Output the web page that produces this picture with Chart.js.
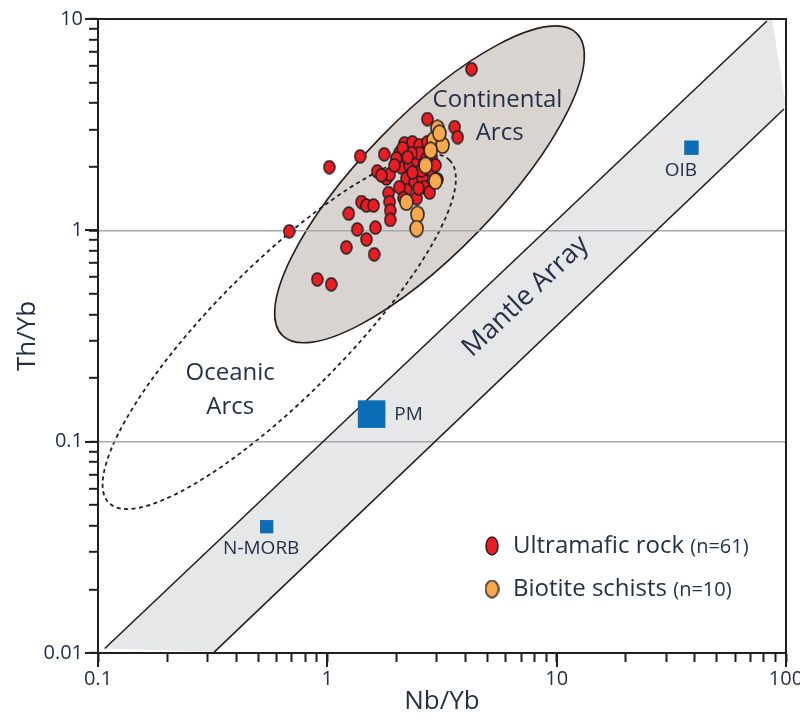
<!DOCTYPE html>
<html>
<head>
<meta charset="utf-8">
<title>Th/Yb vs Nb/Yb</title>
<script src="https://cdn.jsdelivr.net/npm/chart.js@4.4.1/dist/chart.umd.min.js"></script>
<style>
  html, body { margin: 0; padding: 0; background: #fff; }
  #wrap { width: 800px; height: 720px; }
</style>
</head>
<body>
<div id="wrap"><canvas id="thNbChart" width="800" height="720"></canvas></div>
<script>
// Th/Yb vs Nb/Yb samples
const ultramaficX = [4.25, 2.73, 3.59, 3.70, 1.02, 1.39, 1.77, 1.65, 1.81, 1.87,
  1.24, 1.41, 1.48, 1.59, 1.85, 1.87, 1.88, 1.88, 1.35, 1.62,
  1.48, 1.21, 1.60, 0.904, 1.04, 0.682, 2.06, 2.17, 2.35, 2.52,
  2.71, 2.85, 2.10, 2.28, 2.45, 2.65, 2.85, 2.21, 2.40, 2.60,
  2.65, 2.45, 2.21, 2.06, 3.02, 2.00, 2.52, 2.33, 2.71, 2.57,
  2.35, 2.85, 2.13, 2.73, 1.72, 1.96, 2.24, 2.50, 2.79, 2.15, 2.96];
const ultramaficY = [5.79, 3.36, 3.08, 2.76, 1.99, 2.24, 2.29, 1.90, 1.76, 1.84,
  1.20, 1.36, 1.31, 1.31, 1.50, 1.36, 1.24, 1.12, 1.01, 1.03,
  0.906, 0.831, 0.770, 0.586, 0.555, 0.989, 2.32, 2.58, 2.61, 2.53,
  2.34, 2.22, 1.99, 2.03, 2.15, 2.08, 1.92, 1.76, 1.69, 1.76,
  1.60, 1.42, 1.55, 1.60, 1.74, 2.19, 2.32, 2.32, 2.19, 1.92,
  1.88, 2.45, 2.45, 2.61, 1.82, 2.03, 2.22, 1.58, 1.51, 1.42, 2.03];
const schistX = [3.02, 2.90, 3.18, 2.82, 2.96, 2.21, 2.47, 2.45, 2.68, 3.08];
const schistY = [3.04, 2.67, 2.53, 2.39, 1.71, 1.36, 1.19, 1.02, 2.03, 2.88];

// reference compositions
const refNames = ['N-MORB', 'PM', 'OIB'];
const refX = [0.544, 1.56, 38.7];
const refY = [0.0396, 0.135, 2.46];

// axis ticks
const xTicks = [0.1, 0.2, 0.3, 0.4, 0.5, 0.6, 0.7, 0.8, 0.9,
  1, 2, 3, 4, 5, 6, 7, 8, 9, 10, 20, 30, 40, 50, 60, 70, 80, 90, 100];
const yTicks = [0.01, 0.02, 0.03, 0.04, 0.05, 0.06, 0.07, 0.08, 0.09,
  0.1, 0.2, 0.3, 0.4, 0.5, 0.6, 0.7, 0.8, 0.9,
  1, 2, 3, 4, 5, 6, 7, 8, 9, 10];
const xLabelValues = [0.1, 1, 10, 100];
const xTickLabels = ['0.1', '1', '10', '100'];
const yLabelValues = [0.01, 0.1, 1, 10];
const yTickLabels = ['0.01', '0.1', '1', '10'];
const gridValues = [0.1, 1];

// mantle array band (two parallel bounding lines)
const mantleUpper = [{x: 0.107, y: 0.0105}, {x: 82.6, y: 9.78}];
const mantleLower = [{x: 0.321, y: 0.0101}, {x: 98.0, y: 3.75}];
const mantleCorner = [{x: 86.9, y: 10}, {x: 99.0, y: 4.13}];

// fields: centre, end of long axis, end of short axis
const continentalArcs = [{x: 2.79, y: 1.65}, {x: 12.2, y: 8.58}, {x: 4.56, y: 0.989}];
const oceanicArcs = [{x: 0.617, y: 0.332}, {x: 3.41, y: 2.15}, {x: 0.990, y: 0.201}];

const fieldLabels = [
  {text: 'Continental', x: 5.52, y: 4.13},
  {text: 'Arcs', x: 5.64, y: 2.88},
  {text: 'Oceanic', x: 0.377, y: 0.210},
  {text: 'Arcs', x: 0.377, y: 0.145}
];
const refLabels = [
  {text: 'N-MORB', x: 0.515, y: 0.0311, align: 'center'},
  {text: 'PM', x: 1.96, y: 0.135, align: 'left'},
  {text: 'OIB', x: 34.8, y: 1.92, align: 'center'}
];
const mantleLabel = {text: 'Mantle Array', x: 7.32, y: 0.487};

const FONT = '"Open Sans", "Noto Sans", sans-serif';
const TEXT = '#253047';
const INK = '#231f20';
const RED = '#ec1c24';
const ORANGE = '#f9a84b';
const BLUE = '#0b6db5';

function makeMarker(w, h, fill) {
  const c = document.createElement('canvas');
  c.width = w;
  c.height = h;
  const g = c.getContext('2d');
  g.beginPath();
  g.ellipse(w / 2, h / 2, w / 2 - 1, h / 2 - 1, 0, 0, Math.PI * 2);
  g.fillStyle = fill;
  g.fill();
  g.lineWidth = 1.5;
  g.strokeStyle = INK;
  g.stroke();
  return c;
}

const redDot = makeMarker(13, 15, RED);
const orangeDot = makeMarker(15, 18, ORANGE);
const redKey = makeMarker(14, 20, RED);
const orangeKey = makeMarker(15, 19, ORANGE);

const toPoints = (xs, ys) => xs.map((x, i) => ({x: x, y: ys[i]}));

// ellipse from centre and two conjugate half-axes, mapped through the scales
function traceEllipse(chart, pts) {
  const xs = chart.scales.x, ys = chart.scales.y, ctx = chart.ctx;
  const cx = xs.getPixelForValue(pts[0].x), cy = ys.getPixelForValue(pts[0].y);
  const ax = xs.getPixelForValue(pts[1].x), ay = ys.getPixelForValue(pts[1].y);
  const bx = xs.getPixelForValue(pts[2].x), by = ys.getPixelForValue(pts[2].y);
  ctx.save();
  ctx.transform(ax - cx, ay - cy, bx - cx, by - cy, cx, cy);
  ctx.beginPath();
  ctx.arc(0, 0, 1, 0, Math.PI * 2);
  ctx.restore();
}

function putText(ctx, text, x, y, size, align) {
  ctx.font = size + 'px ' + FONT;
  ctx.textAlign = align || 'center';
  ctx.textBaseline = 'middle';
  ctx.fillStyle = TEXT;
  ctx.fillText(text, x, y);
}

const fieldsPlugin = {
  id: 'fields',
  beforeDraw(chart) {
    const {ctx, chartArea: ca} = chart;
    const xs = chart.scales.x, ys = chart.scales.y;
    ctx.save();
    ctx.fillStyle = '#fff';
    ctx.fillRect(0, 0, chart.width, chart.height);
    ctx.beginPath();
    ctx.rect(ca.left, ca.top, ca.right - ca.left, ca.bottom - ca.top);
    ctx.clip();

    // mantle array fill
    const band = [mantleUpper[0], mantleUpper[1], mantleCorner[0], mantleCorner[1], mantleLower[1], mantleLower[0]];
    ctx.beginPath();
    band.forEach((p, i) => {
      const px = xs.getPixelForValue(p.x), py = ys.getPixelForValue(p.y);
      if (i) ctx.lineTo(px, py); else ctx.moveTo(px, py);
    });
    ctx.closePath();
    ctx.fillStyle = '#e6e7e8';
    ctx.fill();

    // continental arcs field
    traceEllipse(chart, continentalArcs);
    ctx.fillStyle = '#d9d4cf';
    ctx.fill();
    ctx.lineWidth = 1.6;
    ctx.strokeStyle = INK;
    ctx.stroke();

    // oceanic arcs field
    traceEllipse(chart, oceanicArcs);
    ctx.setLineDash([4, 3.5]);
    ctx.lineWidth = 1.8;
    ctx.stroke();
    ctx.restore();
  },
  afterDatasetsDraw(chart) {
    const {ctx, chartArea: ca} = chart;
    const xs = chart.scales.x, ys = chart.scales.y;
    ctx.save();

    fieldLabels.forEach(l => putText(ctx, l.text, xs.getPixelForValue(l.x), ys.getPixelForValue(l.y), 24));
    refLabels.forEach(l => putText(ctx, l.text, xs.getPixelForValue(l.x), ys.getPixelForValue(l.y), 19, l.align));

    // label along the mantle array
    const ux0 = xs.getPixelForValue(mantleUpper[0].x), uy0 = ys.getPixelForValue(mantleUpper[0].y);
    const ux1 = xs.getPixelForValue(mantleUpper[1].x), uy1 = ys.getPixelForValue(mantleUpper[1].y);
    ctx.save();
    ctx.translate(xs.getPixelForValue(mantleLabel.x), ys.getPixelForValue(mantleLabel.y));
    ctx.rotate(Math.atan2(uy1 - uy0, ux1 - ux0));
    putText(ctx, mantleLabel.text, 0, 0, 27);
    ctx.restore();

    // legend
    const keys = [
      {img: redKey, name: 'Ultramafic rock', count: '(n=61)'},
      {img: orangeKey, name: 'Biotite schists', count: '(n=10)'}
    ];
    keys.forEach((k, i) => {
      const lx = ca.right - 294, ly = ca.bottom - 107 + i * 43;
      ctx.drawImage(k.img, lx - k.img.width / 2, ly - k.img.height / 2);
      putText(ctx, k.name, lx + 21, ly, 24, 'left');
      const w = ctx.measureText(k.name + ' ').width;
      putText(ctx, k.count, lx + 21 + w, ly + 1, 20, 'left');
    });

    // longer ticks at the decades
    ctx.strokeStyle = INK;
    ctx.lineWidth = 2;
    ctx.beginPath();
    xLabelValues.forEach(v => {
      const px = Math.round(xs.getPixelForValue(v));
      ctx.moveTo(px, ca.bottom);
      ctx.lineTo(px, ca.bottom + 14);
    });
    yLabelValues.forEach(v => {
      const py = Math.round(ys.getPixelForValue(v));
      ctx.moveTo(ca.left, py);
      ctx.lineTo(ca.left - 13, py);
    });
    ctx.stroke();

    // frame
    ctx.strokeRect(ca.left, ca.top, ca.right - ca.left, ca.bottom - ca.top);
    ctx.restore();
  }
};

new Chart(document.getElementById('thNbChart'), {
  type: 'scatter',
  data: {
    datasets: [
      {
        label: 'Biotite schists',
        data: toPoints(schistX, schistY),
        pointStyle: orangeDot,
        pointRadius: 7
      },
      {
        label: 'Ultramafic rock',
        data: toPoints(ultramaficX, ultramaficY),
        pointStyle: redDot,
        pointRadius: 6
      },
      {
        label: 'Reference',
        data: toPoints(refX, refY),
        pointStyle: 'rect',
        pointRadius: [9.4, 19.5, 10.2],
        backgroundColor: BLUE,
        borderWidth: 0
      },
      {
        label: 'Mantle array upper',
        data: mantleUpper,
        showLine: true,
        pointRadius: 0,
        borderColor: INK,
        borderWidth: 1.6
      },
      {
        label: 'Mantle array lower',
        data: mantleLower,
        showLine: true,
        pointRadius: 0,
        borderColor: INK,
        borderWidth: 1.6
      }
    ]
  },
  options: {
    responsive: false,
    animation: false,
    devicePixelRatio: 1,
    layout: { autoPadding: false, padding: { top: 19, right: 14, left: 0, bottom: 0 } },
    plugins: {
      legend: { display: false },
      tooltip: { enabled: false }
    },
    scales: {
      x: {
        type: 'logarithmic',
        min: 0.1,
        max: 100,
        afterBuildTicks: s => { s.ticks = xTicks.map(v => ({value: v})); },
        afterFit: s => { s.height = 67; s.paddingLeft = 0; s.paddingRight = 0; },
        ticks: {
          autoSkip: false,
          maxRotation: 0,
          padding: 5,
          color: TEXT,
          font: { family: FONT, size: 20 },
          callback: v => {
            const i = xLabelValues.indexOf(v);
            return i < 0 ? '' : xTickLabels[i];
          }
        },
        grid: { drawOnChartArea: false, tickLength: 9, tickWidth: 2, tickColor: INK },
        border: { color: INK, width: 2 },
        title: {
          display: true,
          text: 'Nb/Yb',
          color: TEXT,
          font: { family: FONT, size: 26 },
          padding: { top: 0, bottom: 3 }
        }
      },
      y: {
        type: 'logarithmic',
        min: 0.01,
        max: 10,
        afterBuildTicks: s => { s.ticks = yTicks.map(v => ({value: v})); },
        afterFit: s => { s.width = 98; s.paddingTop = 0; s.paddingBottom = 0; },
        ticks: {
          autoSkip: false,
          padding: 6,
          color: TEXT,
          font: { family: FONT, size: 20 },
          callback: v => {
            const i = yLabelValues.indexOf(v);
            return i < 0 ? '' : yTickLabels[i];
          }
        },
        grid: {
          color: c => (c.tick && gridValues.includes(c.tick.value)) ? '#a6a8ab' : 'rgba(0,0,0,0)',
          lineWidth: 1.6,
          tickLength: 9,
          tickWidth: 2,
          tickColor: INK
        },
        border: { color: INK, width: 2 },
        title: {
          display: true,
          text: 'Th/Yb',
          color: TEXT,
          font: { family: FONT, size: 26 },
          padding: { top: 12, bottom: 0 }
        }
      }
    }
  },
  plugins: [fieldsPlugin]
});
</script>
</body>
</html>
